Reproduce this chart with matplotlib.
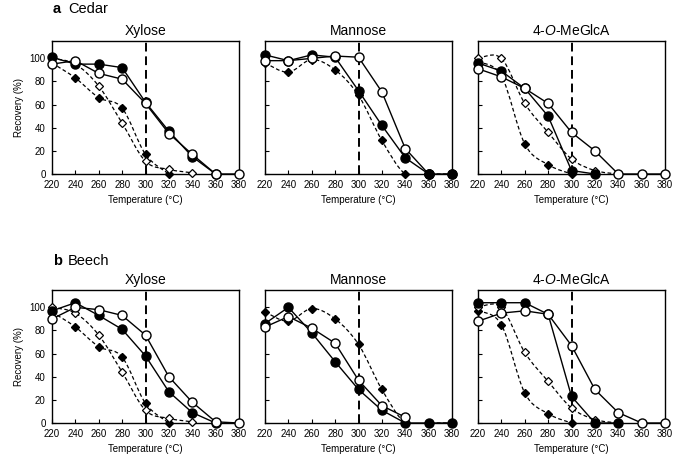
import numpy as np
import matplotlib
matplotlib.use("Agg")
import matplotlib.pyplot as plt
from matplotlib.path import Path
from matplotlib.patches import PathPatch

plt.rcParams['font.family'] = ['Liberation Sans', 'DejaVu Sans']
plt.rcParams['mathtext.fontset'] = 'custom'
plt.rcParams['mathtext.rm'] = 'Liberation Sans'
plt.rcParams['mathtext.it'] = 'Liberation Sans:italic'

temps = [220, 240, 260, 280, 300, 320, 340, 360, 380]
xticks = [220, 240, 260, 280, 300, 320, 340, 360, 380]
yticks = [0, 20, 40, 60, 80, 100]
sugars = ["Xylose", "Mannose", "4-$\\it{O}$-MeGlcA"]
woods = ["Cedar", "Beech"]
letters = ["a", "b"]
nan = np.nan

# Reference (dashed, diamond) series, same for both woods
ref_filled = {
    "Xylose":  [96, 83, 66, 57, 17, 0, nan, nan, nan],
    "Mannose": [96, 88, 99, 90, 68, 29, 0, 0, 0],
    "4-$\\it{O}$-MeGlcA": [97, 85, 26, 8, 0, nan, nan, nan, nan],
}
ref_open = {
    "Xylose":  [100, 95, 76, 44, 11, 4, 1, nan, nan],
    "Mannose": [nan] * 9,
    "4-$\\it{O}$-MeGlcA": [100, 100, 61, 36, 13, 3, 0, nan, nan],
}

# Measured series (solid lines, circles)
cedar_filled = {
    "Xylose":  [101, 95, 95, 92, 62, 37, 15, 0, nan],
    "Mannose": [103, 98, 103, 101, 72, 42, 14, 0, 0],
    "4-$\\it{O}$-MeGlcA": [96, 89, 74, 50, 3, 0, nan, nan, nan],
}
cedar_open = {
    "Xylose":  [95, 98, 87, 82, 61, 35, 17, 0, 0],
    "Mannose": [98, 98, 100, 102, 101, 71, 22, 0, nan],
    "4-$\\it{O}$-MeGlcA": [91, 84, 74, 61, 36, 20, 0, 0, 0],
}
beech_filled = {
    "Xylose":  [97, 104, 93, 81, 58, 27, 9, 0, nan],
    "Mannose": [86, 100, 78, 53, 29, 11, 0, 0, 0],
    "4-$\\it{O}$-MeGlcA": [104, 104, 104, 94, 23, 0, 0, nan, nan],
}
beech_open = {
    "Xylose":  [90, 100, 98, 93, 76, 40, 18, 1, 0],
    "Mannose": [83, 92, 82, 69, 37, 15, 5, nan, nan],
    "4-$\\it{O}$-MeGlcA": [88, 95, 97, 94, 67, 29, 9, 0, 0],
}
measured = {"Cedar": (cedar_filled, cedar_open), "Beech": (beech_filled, beech_open)}


def smooth_curve(ax, x, y, **kw):
    x = np.asarray(x, float)
    y = np.asarray(y, float)
    m = ~np.isnan(y)
    P = np.column_stack([x[m], y[m]])
    n = len(P)
    if n < 2:
        return
    verts = [P[0]]
    codes = [Path.MOVETO]
    for i in range(n - 1):
        p0 = P[i - 1] if i > 0 else P[i]
        p1 = P[i]
        p2 = P[i + 1]
        p3 = P[i + 2] if i + 2 < n else P[i + 1]
        c1 = p1 + (p2 - p0) / 6.0
        c2 = p2 - (p3 - p1) / 6.0
        verts += [c1, c2, p2]
        codes += [Path.CURVE4] * 3
    patch = PathPatch(Path(verts, codes), fill=False, **kw)
    ax.add_patch(patch)


fig = plt.figure(figsize=(6.85, 4.68), dpi=100)
lefts = [52 / 685, 265 / 685, 478 / 685]
width = 187 / 685
bottoms = [1 - 174 / 468, 1 - 423 / 468]
height = 133 / 468

CMS = 6.5
DMS = 4.0

for r, wood in enumerate(woods):
    filled, opn = measured[wood]
    for c, sugar in enumerate(sugars):
        ax = fig.add_axes([lefts[c], bottoms[r], width, height])
        ax.set_xlim(220, 380)
        ax.set_ylim(0, 115)
        ax.axvline(300, color='black', lw=1.4, dashes=(4.5, 2.5), zorder=1)

        smooth_curve(ax, temps, ref_filled[sugar], edgecolor='black', lw=0.9,
                     linestyle=(0, (3, 2)), zorder=2)
        smooth_curve(ax, temps, ref_open[sugar], edgecolor='black', lw=0.9,
                     linestyle=(0, (3, 2)), zorder=2)
        ax.plot(temps, ref_filled[sugar], linestyle='none', marker='D', ms=DMS,
                mfc='black', mec='black', zorder=3, clip_on=False)
        ax.plot(temps, ref_open[sugar], linestyle='none', marker='D', ms=DMS,
                mfc='white', mec='black', mew=0.9, zorder=3, clip_on=False)

        fy = filled[sugar]
        oy = opn[sugar]
        ax.plot(temps, fy, color='black', lw=1.0, marker='o', ms=CMS,
                mfc='black', mec='black', zorder=4, clip_on=False)
        ax.plot(temps, oy, color='black', lw=1.0, marker='o', ms=CMS,
                mfc='white', mec='black', mew=1.0, zorder=5, clip_on=False)
        if wood == "Cedar" and c == 1:
            # filled markers at the tail sit on top of the open ones
            ax.plot(temps[7:], fy[7:], linestyle='none', marker='o', ms=CMS,
                    mfc='black', mec='black', zorder=6, clip_on=False)

        ax.set_xticks(xticks)
        ax.set_yticks(yticks)
        ax.tick_params(direction='in', length=3, width=0.8, labelsize=7, pad=4.5)
        if c == 0:
            ax.set_ylabel("Recovery (%)", fontsize=7, labelpad=4)
        else:
            ax.set_yticklabels([])
        ax.set_xlabel("Temperature (°C)", fontsize=7, labelpad=3.5)
        ax.set_title(sugar, fontsize=10, pad=4)
        for s in ax.spines.values():
            s.set_linewidth(1.0)

    ytxt = 1 - (9 if r == 0 else 261) / 468
    fig.text(53 / 685, ytxt, letters[r], fontsize=10.5, fontweight='bold', va='center')
    fig.text(68 / 685, ytxt, wood, fontsize=10.5, va='center')

fig.savefig("out.png", dpi=100)
